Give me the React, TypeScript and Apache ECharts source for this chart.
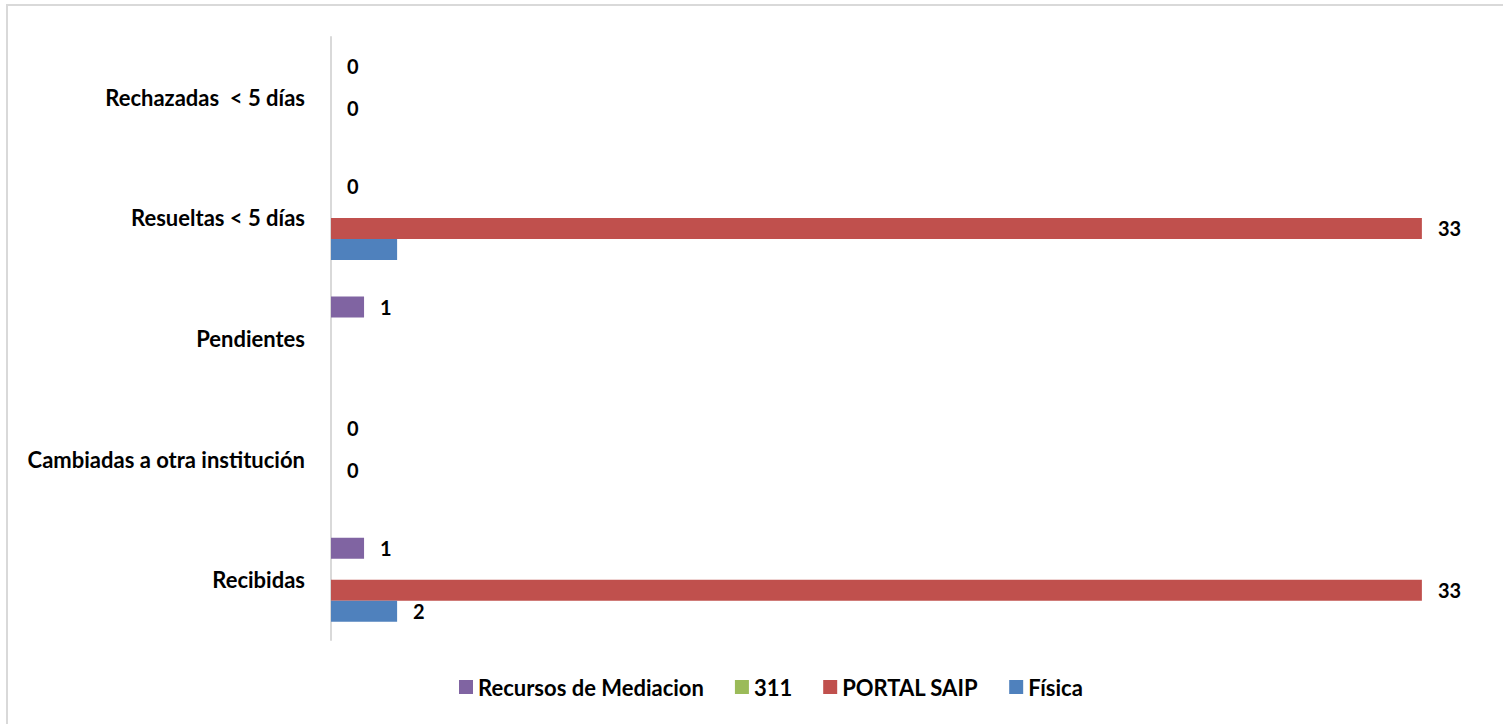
import React, { useEffect, useRef } from "react";
import * as echarts from "echarts";

const categories = [
  "Recibidas",
  "Cambiadas a otra institución",
  "Pendientes",
  "Resueltas < 5 días",
  "Rechazadas  < 5 días",
];
const seriesNames = ["Recursos de Mediacion", "311", "PORTAL SAIP", "Física"];
const fisica: (number | null)[] = [2, null, null, 2, null];
const portalSaip: (number | null)[] = [33, 0, null, 33, 0];
const tres11: (number | null)[] = [null, null, null, null, null];
const recursos: (number | null)[] = [1, 0, 1, 0, 0];
// which points carry no visible label
const fisicaHiddenLabel = [false, false, false, true, false];

const colors: Record<string, string> = {
  "Recursos de Mediacion": "#8064a2",
  "311": "#9bbb59",
  "PORTAL SAIP": "#c0504d",
  "Física": "#4f81bd",
};

const FONT = "Lato";

export default function App() {
  const ref = useRef<HTMLDivElement>(null);
  useEffect(() => {
    if (!ref.current) return;
    const chart = echarts.init(ref.current, undefined, { renderer: "svg" });
    const label = {
      show: true,
      position: "right",
      distance: 16,
      color: "#000",
      fontFamily: FONT,
      fontWeight: "bold",
      fontSize: 20,
    };
    const mk = (name: string, data: (number | null)[], hidden?: boolean[]) => ({
      name,
      type: "bar",
      data: data.map((v, i) =>
        hidden && hidden[i] ? { value: v, label: { show: false } } : v
      ),
      barWidth: 21,
      barGap: "0%",
      itemStyle: { color: colors[name], borderColor: colors[name], borderWidth: 0 },
      label,
    });
    chart.setOption({
      animation: false,
      backgroundColor: "#fff",
      grid: { left: 331, right: 15, top: 37, bottom: 84, containLabel: false },
      xAxis: {
        type: "value",
        min: 0,
        max: 35,
        show: false,
      },
      yAxis: {
        type: "category",
        data: categories,
        axisLine: { show: true, lineStyle: { color: "#d9d9d9", width: 2 } },
        axisTick: { show: false },
        axisLabel: {
          color: "#000",
          fontFamily: FONT,
          fontWeight: "bold",
          fontSize: 22,
          margin: 26,
        },
        splitLine: { show: false },
      },
      legend: {
        data: seriesNames,
        top: 676,
        left: 459,
        itemWidth: 14,
        itemHeight: 14,
        itemGap: 31,
        icon: "rect",
        padding: 0,
        textStyle: {
          color: "#000",
          fontFamily: FONT,
          fontWeight: "bold",
          fontSize: 22,
        },
      },
      graphic: [
        {
          type: "rect",
          shape: { x: 7, y: 5, width: 1600, height: 800 },
          style: { fill: "none", stroke: "#d9d9d9", lineWidth: 2 },
          silent: true,
        },
      ],
      series: [
        mk("Recursos de Mediacion", recursos),
        mk("311", tres11),
        mk("PORTAL SAIP", portalSaip),
        mk("Física", fisica, fisicaHiddenLabel),
      ],
    });
    return () => chart.dispose();
  }, []);
  return (
    <div
      ref={ref}
      style={{ position: "fixed", left: 0, top: 0, width: 1503, height: 724 }}
    />
  );
}
